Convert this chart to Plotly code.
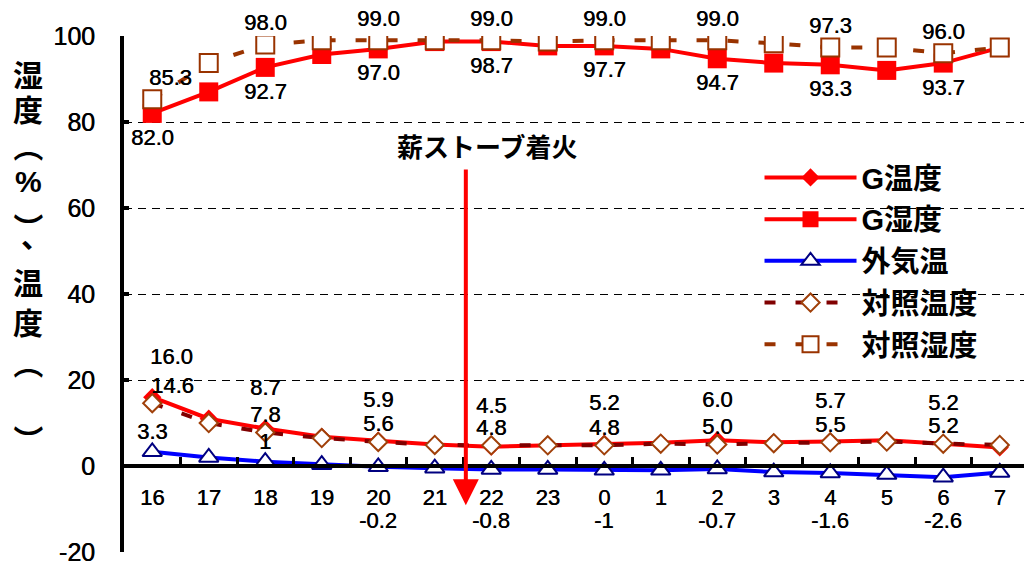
import plotly.graph_objects as go

categories = ["16", "17", "18", "19", "20", "21", "22", "23", "0", "1", "2", "3", "4", "5", "6", "7"]
g_temp = [16.0, 11.0, 8.7, 6.8, 5.9, 5.0, 4.5, 4.8, 5.2, 5.4, 6.0, 5.5, 5.7, 6.0, 5.2, 4.3]
g_hum = [82.0, 87.0, 92.7, 95.7, 97.0, 98.7, 98.7, 97.7, 97.7, 97.0, 94.7, 93.7, 93.3, 92.0, 93.7, 97.3]
out_temp = [3.3, 2.0, 1.0, 0.3, -0.2, -0.5, -0.8, -0.8, -1.0, -1.0, -0.7, -1.4, -1.6, -2.0, -2.6, -1.5]
ctrl_temp = [14.6, 10.0, 7.8, 6.5, 5.6, 4.9, 4.8, 4.8, 4.8, 5.2, 5.0, 5.3, 5.5, 5.7, 5.2, 4.9]
ctrl_hum = [85.3, 93.7, 98.0, 99.0, 99.0, 99.0, 99.0, 98.7, 99.0, 99.0, 99.0, 98.3, 97.3, 97.3, 96.0, 97.3]
labeled_idx = [0, 2, 4, 6, 8, 10, 12, 14]
y_tick_vals = [-20, 0, 20, 40, 60, 80, 100]
y_tick_labels = ["-20", "0", "20", "40", "60", "80", "100"]

# vertical title: (char, rotation, pixel y of anchor)
y_title_chars = ["湿", "度", "（", "%", "）", "、", "温", "度", "（", "）"]
y_title_rot = [0, 0, 90, 0, 90, 0, 0, 0, 90, 90]
y_title_px = [75, 110, 147, 182, 228, 236, 283, 323, 364, 440]
y_title_dx = [0, 0, 0, 0, 0, 8, 0, 0, 0, 0]

NUM = "Liberation Sans, Arial, sans-serif"
JP = "Liberation Sans, Noto Sans CJK JP, sans-serif"
THICK = "0.45px 0 0 black"

# page body has an 8px margin; compensate so the plot area lands at 124..1028 x 36..552
OFF = 8
W, H = 1032 - OFF, 563 - OFF

fig = go.Figure()
fig.add_trace(go.Scatter(x=categories, y=g_temp, name="G温度", mode="lines+markers",
                         line=dict(color="#FF0000", width=4),
                         marker=dict(symbol="diamond", size=14, color="#FF0000"), legendgroup="a"))
fig.add_trace(go.Scatter(x=categories, y=g_hum, name="G湿度", mode="lines+markers",
                         line=dict(color="#FF0000", width=4),
                         marker=dict(symbol="square", size=19, color="#FF0000"), legendgroup="b"))
fig.add_trace(go.Scatter(x=categories, y=out_temp, name="外気温", mode="lines+markers",
                         line=dict(color="#0000FF", width=4),
                         marker=dict(symbol="triangle-up", size=17, color="white",
                                     line=dict(color="#000080", width=2)), legendgroup="c"))
fig.add_trace(go.Scatter(x=categories, y=ctrl_temp, name="対照温度", mode="lines+markers",
                         line=dict(color="#800000", width=4, dash="11px,20px"),
                         marker=dict(symbol="diamond", size=14, color="white",
                                     line=dict(color="#A0400A", width=2)), legendgroup="d"))
fig.add_trace(go.Scatter(x=categories, y=ctrl_hum, name="対照湿度", mode="lines+markers",
                         line=dict(color="#993300", width=4, dash="11px,20px"),
                         marker=dict(symbol="square", size=18, color="white",
                                     line=dict(color="#993300", width=2)), legendgroup="e"))

annots = []
def add_labels(values, yshift, fmt, first_xshift=0):
    for i in labeled_idx:
        v = values[i]
        annots.append(dict(x=i, y=v, xref="x", yref="y", text=fmt(v), showarrow=False,
                           yshift=yshift, xshift=(first_xshift if i == 0 else 0),
                           font=dict(family=NUM, size=22, color="black", shadow=THICK)))

add_labels(g_hum, -24, lambda v: f"{v:.1f}")
add_labels(ctrl_hum, 22, lambda v: f"{v:.1f}", 18)
add_labels(g_temp, 41, lambda v: f"{v:.1f}", 19)
add_labels(ctrl_temp, 18, lambda v: f"{v:.1f}", 20)
for i in labeled_idx:
    v = out_temp[i]
    if v > 0:
        pos = dict(y=v, yshift=20)
    else:
        pos = dict(y=-12.7, yshift=0)  # negative labels sit in a row under the hour labels
    annots.append(dict(x=i, xref="x", yref="y", text=f"{v:g}", showarrow=False,
                       font=dict(family=NUM, size=22, color="black", shadow=THICK), **pos))

# arrow for stove ignition
annots.append(dict(x=5.55, y=-9.1, ax=5.55, ay=69.3, xref="x", yref="y", axref="x", ayref="y",
                   text="", showarrow=True, arrowhead=2, arrowsize=1.3, arrowwidth=4,
                   arrowcolor="#FF0000"))
annots.append(dict(x=5.92, y=74.0, xref="x", yref="y", text="<b>薪ストーブ着火</b>", showarrow=False,
                   font=dict(family=JP, size=26, color="black")))

# vertical y-axis title
for ch, rot, py, dx in zip(y_title_chars, y_title_rot, y_title_px, y_title_dx):
    annots.append(dict(x=0, y=(552 - py) / 516, xref="paper", yref="paper", text=f"<b>{ch}</b>",
                       showarrow=False, xanchor="center", yanchor="middle", xshift=-96 + dx,
                       textangle=rot,
                       font=dict(family=JP, size=30, color="black")))

fig.update_layout(
    width=W, height=H,
    margin=dict(l=124 - OFF, r=4, t=36 - OFF, b=11, autoexpand=False),
    plot_bgcolor="white", paper_bgcolor="white",
    showlegend=True,
    legend=dict(x=0.703, y=0.775, xanchor="left", yanchor="top", bgcolor="rgba(0,0,0,0)",
                font=dict(family=JP, size=29, color="black", weight="bold"),
                itemwidth=92, tracegroupgap=1),
    annotations=annots,
    xaxis=dict(type="category", range=[-0.5, 15.5], anchor="free", position=20 / 120,
               automargin=False,
               showline=True, linecolor="black", linewidth=4, showgrid=False,
               ticks="inside", tickson="boundaries", ticklen=7, tickwidth=3, tickcolor="black",
               ticklabelstandoff=11,
               tickfont=dict(family=NUM, size=22, color="black", shadow=THICK)),
    yaxis=dict(range=[-20, 100], tickmode="array", tickvals=y_tick_vals, ticktext=y_tick_labels,
               automargin=False,
               showline=True, linecolor="black", linewidth=4,
               showgrid=True, gridcolor="black", gridwidth=1, griddash="8px,6px",
               zeroline=False, ticks="inside", ticklen=5, tickwidth=4, tickcolor="black",
               ticklabelstandoff=20, ticklabeloverflow="allow",
               tickfont=dict(family=NUM, size=25, color="black", shadow=THICK)),
)

fig.write_html("out.html")
